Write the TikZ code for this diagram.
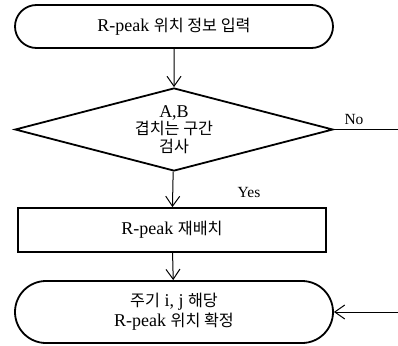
\documentclass[tikz,border=0pt]{standalone}
\usepackage{fontspec}
\setmainfont{Liberation Serif}
\newfontfamily\kr{Noto Sans CJK KR}[Scale=0.9]
\usetikzlibrary{shapes.geometric,shapes.misc,arrows.meta}

\tikzset{
  term/.style={rounded rectangle,draw,line width=1.8pt,minimum width=318pt,inner sep=0pt,align=center},
  proc/.style={rectangle,draw,line width=1.8pt,minimum width=308pt,minimum height=44pt,inner sep=0pt},
  test/.style={diamond,draw,line width=1.8pt,minimum width=318pt,minimum height=83pt,inner sep=0pt,aspect=3.8,align=center},
  flow/.style={line width=1pt,-{Straight Barb[length=10pt,width=14pt,line width=1pt]}},
  lbl/.style={font=\fontsize{15.5}{16}\selectfont}
}

\begin{document}
\begin{tikzpicture}[x=1pt,y=-1pt,font=\fontsize{18}{18}\selectfont]
\useasboundingbox (0,0) rectangle (398,345);
% boxes
\node[term,minimum height=43pt] (input) at (174,26.5) {R-peak {\kr 위치 정보 입력}};
\node[test,font=\fontsize{18}{17.5}\selectfont] (check) at (174,129.5) {A,B\\{\kr 겹치는 구간}\\{\kr 검사}};
\node[proc] (move) at (172,230) {R-peak {\kr 재배치}};
\node[term,minimum height=62pt,font=\fontsize{18}{20}\selectfont] (fix) at (174,312) {{\kr 주기} i, j {\kr 해당}\\R-peak {\kr 위치 확정}};
% loose ends on the right
\coordinate (noend) at (check.east -| 400,0);
\coordinate (back) at (fix.east -| 400,0);
% connectors
\draw[flow] (input) -- (check);
\draw[flow] (check) -- (move);
\draw[flow] (move) -- (fix);
\draw[line width=1pt] (check.east) -- (noend);
\draw[flow] (back) -- (fix.east);
\node[lbl] (no) at (354,119) {No};
\node[lbl] (yes) at (249,192) {Yes};
\end{tikzpicture}
\end{document}
